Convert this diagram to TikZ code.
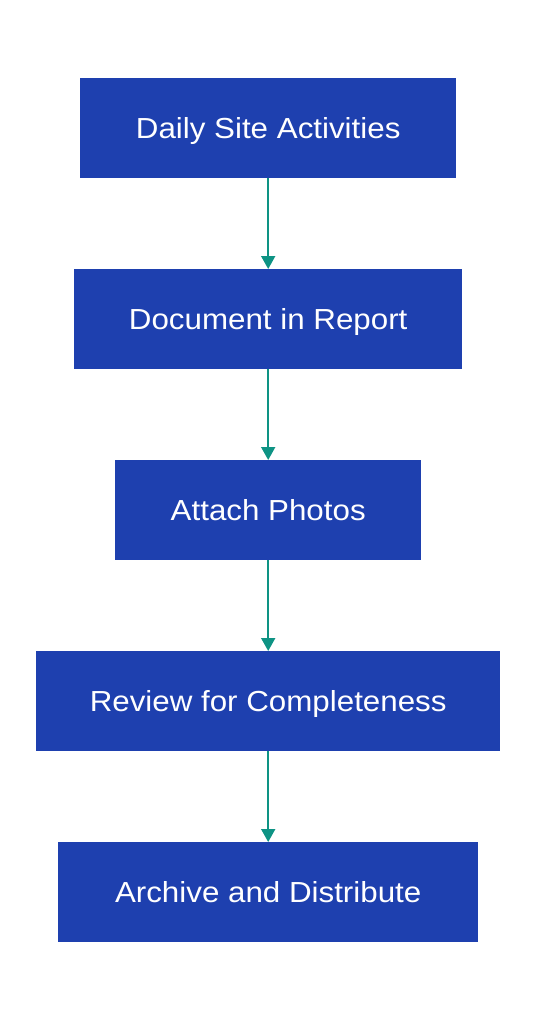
\documentclass[tikz,border=0pt]{standalone}
\usepackage{fontspec}
\setmainfont[FakeStretch=1.08]{Liberation Sans}
\usetikzlibrary{arrows.meta}
\definecolor{boxblue}{HTML}{1E40AF}
\definecolor{teal}{HTML}{0E9384}
\begin{document}
\begin{tikzpicture}[x=1pt,y=-1pt,
  stepbox/.style={fill=boxblue,draw=none,text=white,font=\fontsize{29}{34}\selectfont,inner sep=0pt,text height=22pt,text depth=2pt,anchor=north west,minimum height=100pt},
  conn/.style={draw=teal,line width=1.8pt,-{Triangle[width=14pt,length=13pt]}}]
\useasboundingbox (0,0) rectangle (538,1020);
\node[stepbox,minimum width=376pt] (a) at (80,78) {Daily Site Activities};
\node[stepbox,minimum width=388pt] (b) at (74,269) {Document in Report};
\node[stepbox,minimum width=306pt] (c) at (115,460) {Attach Photos};
\node[stepbox,minimum width=464pt] (d) at (36,651) {Review for Completeness};
\node[stepbox,minimum width=420pt] (e) at (58,842) {Archive and Distribute};
\draw[conn] (a.south) -- (b.north);
\draw[conn] (b.south) -- (c.north);
\draw[conn] (c.south) -- (d.north);
\draw[conn] (d.south) -- (e.north);
\end{tikzpicture}
\end{document}
